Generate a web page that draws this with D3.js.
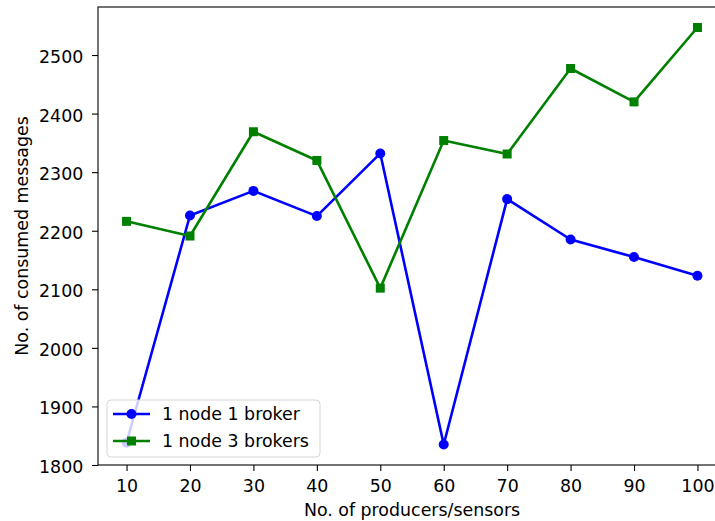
<!DOCTYPE html>
<html lang="en">
    <head>
        <meta charset="utf-8">
        <title>Consumed messages vs producers</title>
        <script type="text/javascript" src="https://d3js.org/d3.v7.min.js"></script>
        <style type="text/css">
            body { margin: 0; background: #fff; }
            svg { display: block; font-family: "DejaVu Sans", sans-serif; }
        </style>
    </head>
    <body>
        <script type="text/javascript">
            //Width and height
            var w = 715;
            var h = 521;
            var fontSize = "17.4px";

            // data
            var producers = [10, 20, 30, 40, 50, 60, 70, 80, 90, 100];
            var oneBroker = [1838, 2226, 2268, 2225, 2332, 1835, 2254, 2185, 2155, 2123];
            var threeBrokers = [2216, 2191, 2369, 2320, 2102, 2354, 2331, 2477, 2420, 2547];
            var xTicks = [10, 20, 30, 40, 50, 60, 70, 80, 90, 100];
            var yTicks = [1800, 1900, 2000, 2100, 2200, 2300, 2400, 2500];

            var series = [
                { name: "1 node 1 broker", values: oneBroker, color: "#0000ff", marker: "circle" },
                { name: "1 node 3 brokers", values: threeBrokers, color: "#008000", marker: "square" }
            ];

            // plot area (right edge is cut off by the picture)
            var plotL = 98, plotR = 726, plotT = 7, plotB = 465;

            var x = d3.scaleLinear().domain([5.5, 104.5]).range([plotL, plotR]);
            var y = d3.scaleLinear().domain([1800, 2582]).range([plotB, plotT]);

            var svg = d3.select("body")
                        .append("svg")
                        .attr("width", w)
                        .attr("height", h);

            // axes
            var xAxis = svg.append("g")
               .attr("transform", "translate(0," + plotB + ")")
               .call(d3.axisBottom(x).tickValues(xTicks).tickFormat(d3.format("d"))
                     .tickSize(6).tickPadding(8.5).tickSizeOuter(0));
            var yAxis = svg.append("g")
               .attr("transform", "translate(" + plotL + ",0)")
               .call(d3.axisLeft(y).tickValues(yTicks).tickFormat(d3.format("d"))
                     .tickSize(6).tickPadding(8.7).tickSizeOuter(0));

            [xAxis, yAxis].forEach(function(a) {
                a.selectAll("text").attr("font-family", "DejaVu Sans").attr("font-size", fontSize).attr("fill", "#000");
                a.selectAll("line").attr("stroke", "#000").attr("stroke-width", 1.1);
                a.select(".domain").remove();
            });
            yAxis.selectAll("text").attr("dy", "0.43em");

            // frame
            svg.append("rect")
               .attr("x", plotL).attr("y", plotT)
               .attr("width", plotR - plotL).attr("height", plotB - plotT)
               .attr("fill", "none").attr("stroke", "#000").attr("stroke-width", 1.1);

            // axis labels
            svg.append("text")
               .text("No. of producers/sensors")
               .attr("x", (plotL + plotR) / 2)
               .attr("y", 516)
               .attr("text-anchor", "middle")
               .attr("font-size", fontSize);
            svg.append("text")
               .text("No. of consumed messages")
               .attr("transform", "translate(28," + ((plotT + plotB) / 2) + ") rotate(-90)")
               .attr("text-anchor", "middle")
               .attr("font-size", fontSize);

            // lines and markers
            var line = d3.line()
                .x(function(d, i) { return x(producers[i]); })
                .y(function(d) { return y(d); });

            function drawMarker(g, type, cx, cy, color) {
                if (type === "circle") {
                    g.append("circle").attr("cx", cx).attr("cy", cy).attr("r", 5).attr("fill", color);
                } else {
                    g.append("rect").attr("x", cx - 4.5).attr("y", cy - 4.5)
                     .attr("width", 9).attr("height", 9).attr("fill", color);
                }
            }

            series.forEach(function(s) {
                var g = svg.append("g");
                g.append("path")
                 .datum(s.values)
                 .attr("d", line)
                 .attr("fill", "none")
                 .attr("stroke", s.color)
                 .attr("stroke-width", 2.6)
                 .attr("stroke-linejoin", "round");
                s.values.forEach(function(v, i) {
                    drawMarker(g, s.marker, x(producers[i]), y(v), s.color);
                });
            });

            // legend
            var legend = svg.append("g");
            legend.append("rect")
               .attr("x", 107).attr("y", 400)
               .attr("width", 213).attr("height", 57)
               .attr("rx", 4)
               .attr("fill", "#fff").attr("fill-opacity", 0.8)
               .attr("stroke", "#d6d6d6").attr("stroke-width", 1);
            series.forEach(function(s, i) {
                var ly = 414 + i * 27;
                legend.append("line")
                   .attr("x1", 113).attr("x2", 150)
                   .attr("y1", ly).attr("y2", ly)
                   .attr("stroke", s.color).attr("stroke-width", 2.6);
                drawMarker(legend, s.marker, 131.5, ly, s.color);
                legend.append("text")
                   .text(s.name)
                   .attr("x", 162).attr("y", ly + 6.3)
                   .attr("font-size", fontSize);
            });
        </script>
    </body>
</html>
